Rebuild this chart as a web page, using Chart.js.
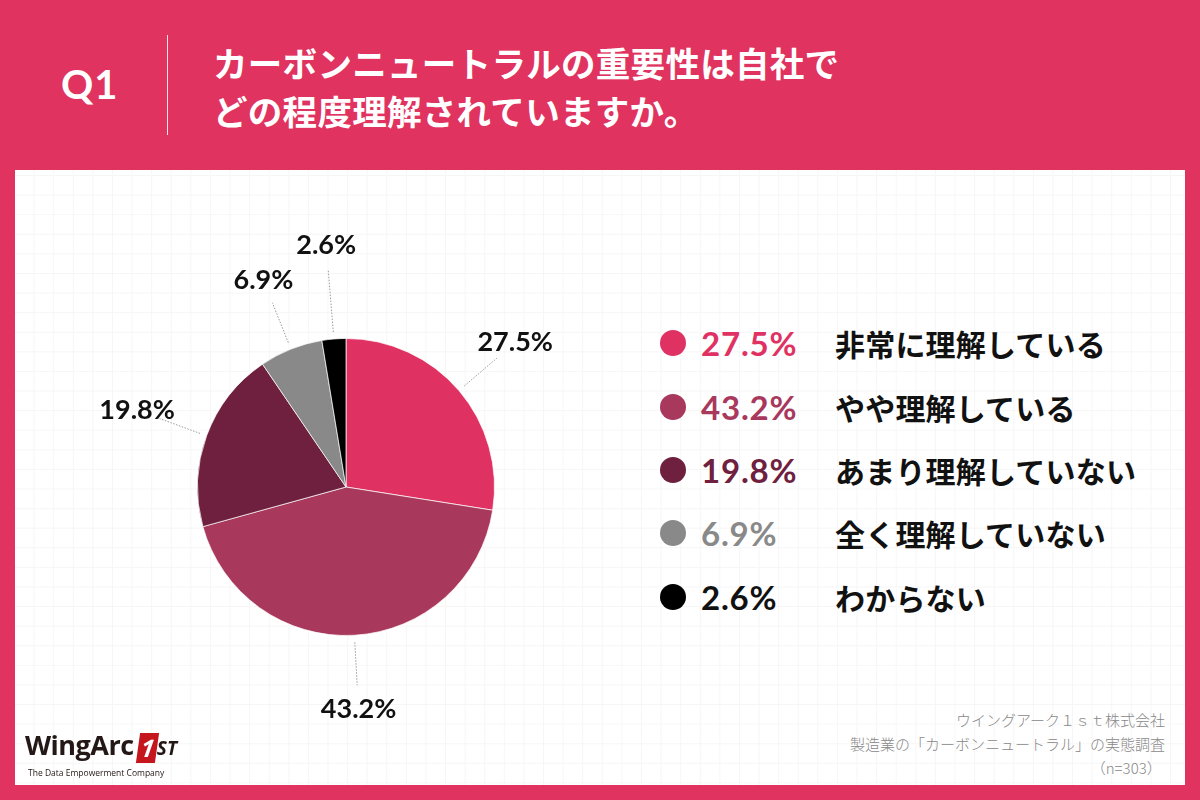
<!DOCTYPE html>
<html lang="ja">
<head>
<meta charset="utf-8">
<script src="https://cdn.jsdelivr.net/npm/chart.js@4.4.1/dist/chart.umd.min.js"></script>
<style>
  body { margin: 0; width: 1200px; height: 800px; background: #E0335F; position: relative; overflow: hidden; font-family: "Noto Sans CJK JP", "Noto Sans", sans-serif; }
  #panel { position: absolute; left: 15px; top: 170px; width: 1170px; height: 615px; background-color: #fff;
    background-image: linear-gradient(#f6f6f6 1px, transparent 1px), linear-gradient(90deg, #f6f6f6 1px, transparent 1px);
    background-size: 19.6px 19.6px; background-position: -1px 5px; }
  #q { position: absolute; left: 61px; top: 60px; color: #fff; font: 700 40px Lato, "Noto Sans", sans-serif; letter-spacing: 1px; }
  #divider { position: absolute; left: 167px; top: 35px; width: 1px; height: 100px; background: rgba(255,255,255,0.85); }
  #title { position: absolute; left: 213px; top: 38px; color: #fff; font-weight: 700; font-size: 34.5px; line-height: 48px; letter-spacing: 0.3px; }
  #pie { position: absolute; left: 46px; top: 187px; }
  .row { position: absolute; left: 660px; height: 40px; display: flex; align-items: center; }
  .dot { width: 26px; height: 26px; border-radius: 50%; }
  .pct { position: absolute; left: 41px; font: 700 33px Lato, "Noto Sans", sans-serif; letter-spacing: 0.8px; white-space: nowrap; }
  .lbl { position: absolute; left: 175px; font-weight: 700; font-size: 30px; color: #111; white-space: nowrap; letter-spacing: 0.2px; }
  #source { position: absolute; right: 35px; top: 708px; text-align: right; color: #888; font-size: 15px; line-height: 24px; font-weight: 300; }
  #logo { position: absolute; left: 25px; top: 726px; }
  #logo .w { font: 700 27px "Open Sans", sans-serif; color: #231815; letter-spacing: -0.5px; }
  #logo .one { display: inline-block; background: #c4161c; color: #fff; font: 700 italic 24px "Open Sans", sans-serif; padding: 0 3px; transform: skewX(-8deg); margin-left: 4px; line-height: 30px; vertical-align: -2px; }
  #logo .st { font: 700 italic 19px "Open Sans", sans-serif; color: #231815; }
  #logo .tag { font: 400 8.5px "Open Sans", sans-serif; color: #231815; margin-top: 4px; margin-left: 3px; }
</style>
</head>
<body>
<div id="panel"></div>
<div id="q">Q1</div>
<div id="divider"></div>
<div id="title">カーボンニュートラルの重要性は自社で<br>どの程度理解されていますか。</div>
<canvas id="pie" width="600" height="600"></canvas>
<div id="legend"></div>
<div id="source">ウイングアーク１ｓｔ株式会社<br>製造業の「カーボンニュートラル」の実態調査<br>（n=303）&nbsp;</div>
<div id="logo"><span class="w">WingArc</span><span class="one">1</span><span class="st">ST</span><div class="tag">The Data Empowerment Company</div></div>
<script>
// answers (clockwise from 12 o'clock)
const categories = ['非常に理解している', 'やや理解している', 'あまり理解していない', '全く理解していない', 'わからない'];
const shares = [27.5, 43.2, 19.8, 6.9, 2.6];
const sliceColors = ['#E03262', '#A8385C', '#6E203E', '#898989', '#000000'];

// legend on the right
const legend = document.getElementById('legend');
const rowTop = [323, 387, 450, 513, 577];
categories.forEach((name, i) => {
    const row = document.createElement('div');
    row.className = 'row';
    row.style.top = rowTop[i] + 'px';
    row.innerHTML = '<div class="dot" style="background:' + sliceColors[i] + '"></div>' +
        '<div class="pct" style="color:' + (i === 4 ? '#111' : sliceColors[i]) + '">' + shares[i].toFixed(1) + '%</div>' +
        '<div class="lbl">' + name + '</div>';
    legend.appendChild(row);
});

// percentage labels outside the pie with dotted leader lines
const outerLabels = {
    id: 'outerLabels',
    afterDatasetsDraw(chart) {
        const ctx = chart.ctx;
        const meta = chart.getDatasetMeta(0);
        meta.data.forEach((arc, i) => {
            const p = arc.getProps(['x', 'y', 'startAngle', 'endAngle', 'outerRadius'], true);
            const mid = (p.startAngle + p.endAngle) / 2;
            const cx = Math.cos(mid), cy = Math.sin(mid);
            const extra = i === shares.length - 1 ? 20 : 0; // smallest slice label pushed out a bit
            ctx.save();
            ctx.strokeStyle = '#9a9a9a';
            ctx.lineWidth = 1;
            ctx.setLineDash([1.5, 1.5]);
            ctx.beginPath();
            ctx.moveTo(p.x + cx * (p.outerRadius + 7), p.y + cy * (p.outerRadius + 7));
            ctx.lineTo(p.x + cx * (p.outerRadius + 50 + extra), p.y + cy * (p.outerRadius + 50 + extra));
            ctx.stroke();
            ctx.setLineDash([]);
            ctx.fillStyle = '#111';
            ctx.font = '700 27px Lato, "Noto Sans", sans-serif';
            ctx.textAlign = 'center';
            ctx.textBaseline = 'middle';
            ctx.fillText(shares[i].toFixed(1) + '%', p.x + cx * (p.outerRadius + 74 + extra), p.y + cy * (p.outerRadius + 74 + extra));
            ctx.restore();
        });
    }
};

new Chart(document.getElementById('pie').getContext('2d'), {
    type: 'pie',
    data: {
        labels: categories,
        datasets: [{
            data: shares,
            backgroundColor: sliceColors,
            borderColor: 'rgba(255,255,255,0.7)',
            borderWidth: 1
        }]
    },
    options: {
        responsive: false,
        animation: false,
        layout: { padding: 151 },
        plugins: {
            legend: { display: false },
            tooltip: { enabled: false }
        }
    },
    plugins: [outerLabels]
});
</script>
</body>
</html>
